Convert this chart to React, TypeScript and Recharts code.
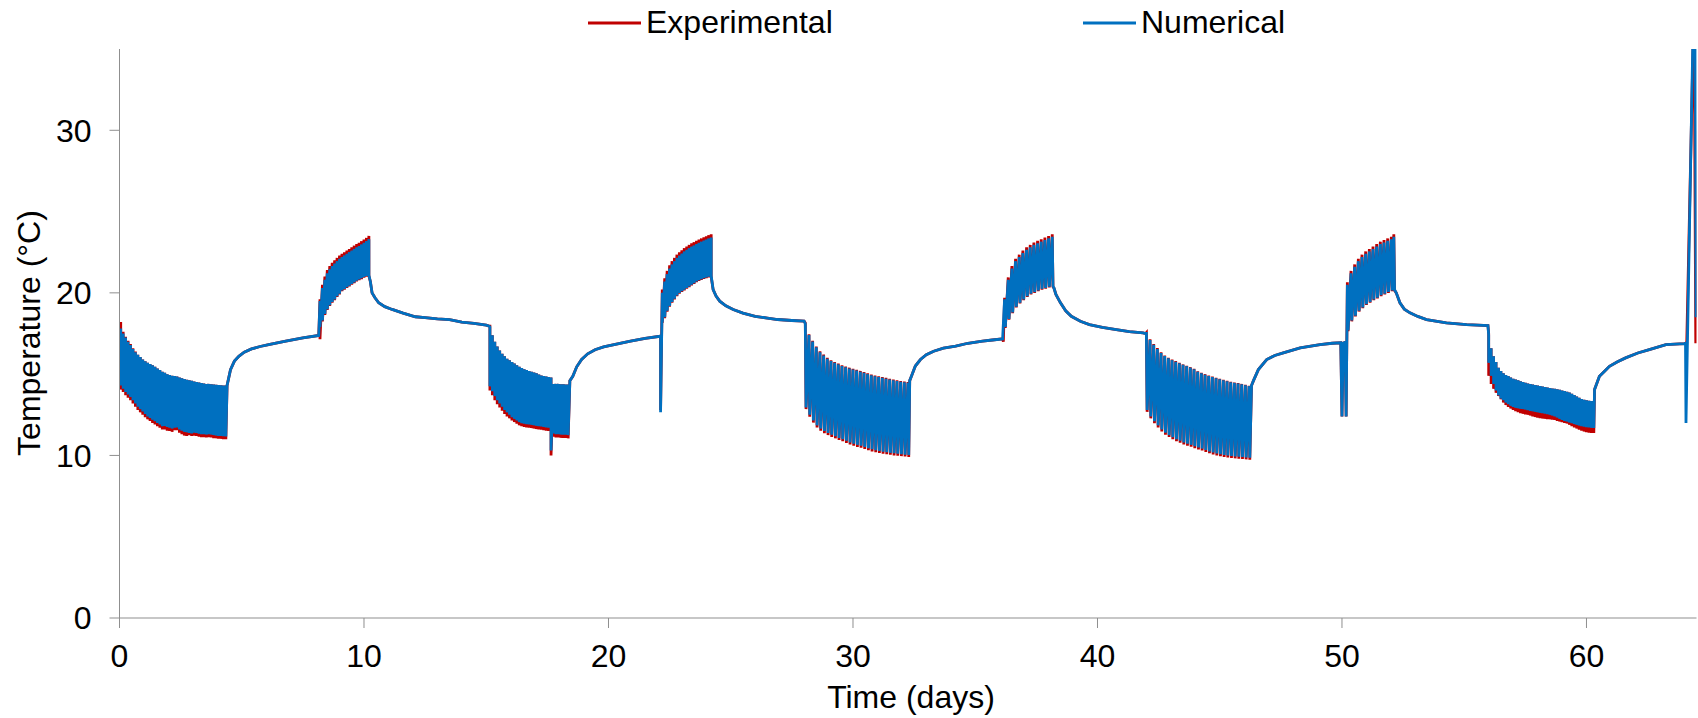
import React from 'react';
import { LineChart, Line, XAxis, YAxis, Legend, Label } from 'recharts';

type P = [number, number];
// [time, high reading, low reading] for densely oscillating stretches
type T = [number, number, number];

const FONT = '"Liberation Sans", Arial, sans-serif';
const AXIS = '#8f8f8f';

const xTicks = [0, 10, 20, 30, 40, 50, 60];
const yTicks = [0, 10, 20, 30];
const xTitle = 'Time (days)';
const yTitle = 'Temperature (°C)';
const expName = 'Experimental';
const numName = 'Numerical';
const expColor = '#C00000';
const numColor = '#0070C0';

// ---- cycle 1: cooling band (0 - 4.35 d)
const band1Num: T[] = [[0.05,17.8,14.3],[0.15,17.5,14.1],[0.25,17.25,13.9],[0.35,17.0,13.75],[0.45,16.8,13.6],[0.55,16.55,13.4],[0.65,16.35,13.2],[0.75,16.2,13.0],[0.85,16.05,12.85],[0.95,15.9,12.7],[1.05,15.8,12.55],[1.15,15.7,12.4],[1.25,15.62,12.3],[1.35,15.55,12.2],[1.45,15.45,12.1],[1.55,15.35,12.0],[1.65,15.25,11.9],[1.75,15.15,11.8],[1.85,15.08,11.82],[1.95,15.0,11.75],[2.05,14.95,11.7],[2.15,14.9,11.65],[2.25,14.88,11.7],[2.35,14.85,11.72],[2.45,14.8,11.6],[2.55,14.75,11.52],[2.65,14.7,11.45],[2.75,14.66,11.42],[2.85,14.63,11.38],[2.95,14.6,11.35],[3.05,14.55,11.4],[3.15,14.52,11.38],[3.25,14.48,11.33],[3.35,14.45,11.3],[3.45,14.43,11.3],[3.55,14.4,11.28],[3.65,14.4,11.3],[3.75,14.38,11.28],[3.85,14.36,11.25],[3.95,14.35,11.22],[4.05,14.33,11.2],[4.15,14.32,11.2],[4.25,14.3,11.18],[4.35,14.3,11.17]];
const band1Exp: T[] = [[0.05,18.2,14.05],[0.15,17.6,13.9],[0.25,17.3,13.7],[0.35,17.05,13.55],[0.45,16.85,13.4],[0.55,16.6,13.2],[0.65,16.4,13.0],[0.75,16.2,12.8],[0.85,16.05,12.65],[0.95,15.9,12.5],[1.05,15.8,12.35],[1.15,15.7,12.22],[1.25,15.62,12.12],[1.35,15.55,12.0],[1.45,15.45,11.9],[1.55,15.35,11.8],[1.65,15.25,11.7],[1.75,15.15,11.6],[1.85,15.08,11.6],[1.95,15.0,11.52],[2.05,14.95,11.5],[2.15,14.9,11.45],[2.25,14.88,11.55],[2.35,14.85,11.55],[2.45,14.8,11.4],[2.55,14.75,11.3],[2.65,14.7,11.22],[2.75,14.66,11.2],[2.85,14.63,11.24],[2.95,14.6,11.2],[3.05,14.55,11.22],[3.15,14.52,11.2],[3.25,14.48,11.15],[3.35,14.45,11.12],[3.45,14.43,11.12],[3.55,14.4,11.1],[3.65,14.4,11.12],[3.75,14.38,11.1],[3.85,14.36,11.06],[3.95,14.35,11.05],[4.05,14.33,11.03],[4.15,14.32,11.02],[4.25,14.3,11.0],[4.35,14.3,11.0]];
const rise1: P[] = [[4.4,14.3],[4.54,15.28],[4.7,15.8],[4.88,16.1],[5.1,16.35],[5.4,16.55],[5.75,16.7],[6.1,16.82],[6.8,17.03],[7.5,17.23],[8.15,17.38]];

// ---- cycle 2: heating band (8.2 - 10.2 d)
const band2Num: T[] = [[8.2,19.5,17.9],[8.3,20.3,18.3],[8.4,20.8,18.7],[8.5,21.2,19.0],[8.6,21.45,19.25],[8.7,21.65,19.45],[8.8,21.8,19.6],[8.9,21.95,19.8],[9.0,22.1,19.95],[9.1,22.2,20.15],[9.2,22.3,20.25],[9.3,22.4,20.35],[9.4,22.5,20.45],[9.5,22.6,20.55],[9.6,22.7,20.65],[9.7,22.8,20.75],[9.8,22.88,20.82],[9.9,22.98,20.9],[10.0,23.08,20.98],[10.1,23.18,21.05],[10.2,23.3,21.1]];
const band2Exp: T[] = [[8.2,19.6,17.15],[8.3,20.5,18.25],[8.4,21.0,18.65],[8.5,21.4,18.95],[8.6,21.65,19.2],[8.7,21.85,19.4],[8.8,22.0,19.55],[8.9,22.15,19.75],[9.0,22.3,19.9],[9.1,22.4,20.1],[9.2,22.5,20.2],[9.3,22.6,20.3],[9.4,22.7,20.4],[9.5,22.8,20.5],[9.6,22.9,20.6],[9.7,23.0,20.7],[9.8,23.08,20.78],[9.9,23.18,20.85],[10.0,23.28,20.93],[10.1,23.38,21.0],[10.2,23.5,21.05]];
const decay2: P[] = [[10.26,20.7],[10.33,20.0],[10.45,19.7],[10.6,19.39],[10.85,19.15],[11.15,18.98],[11.6,18.75],[12.1,18.53],[12.5,18.48],[13.0,18.4],[13.5,18.36],[14.0,18.2],[14.5,18.12],[15.0,18.01],[15.12,17.95]];

// ---- cycle 3: cooling band (15.15 - 18.35 d)
const band3Num: T[] = [[15.15,17.9,14.25],[15.25,17.4,13.95],[15.35,17.0,13.65],[15.45,16.7,13.4],[15.55,16.45,13.2],[15.65,16.25,13.0],[15.75,16.1,12.8],[15.85,15.95,12.65],[15.95,15.85,12.5],[16.05,15.75,12.35],[16.15,15.65,12.25],[16.25,15.55,12.15],[16.35,15.45,12.05],[16.45,15.38,11.98],[16.55,15.3,11.95],[16.65,15.25,11.92],[16.75,15.2,11.9],[16.85,15.15,11.88],[16.95,15.1,11.85],[17.05,15.05,11.82],[17.15,14.98,11.8],[17.25,14.92,11.78],[17.35,14.88,11.75],[17.45,14.85,11.72],[17.55,14.82,11.7],[17.65,14.8,10.3],[17.75,14.4,11.35],[17.85,14.4,11.3],[17.95,14.4,11.3],[18.05,14.38,11.28],[18.15,14.38,11.27],[18.25,14.36,11.27],[18.35,14.36,11.25]];
const band3Exp: T[] = [[15.15,17.95,14.0],[15.25,17.4,13.7],[15.35,17.0,13.4],[15.45,16.7,13.15],[15.55,16.45,12.95],[15.65,16.25,12.75],[15.75,16.1,12.55],[15.85,15.95,12.4],[15.95,15.85,12.28],[16.05,15.75,12.15],[16.15,15.65,12.05],[16.25,15.55,11.95],[16.35,15.45,11.85],[16.45,15.38,11.8],[16.55,15.3,11.75],[16.65,15.25,11.72],[16.75,15.2,11.7],[16.85,15.15,11.68],[16.95,15.1,11.65],[17.05,15.05,11.62],[17.15,14.98,11.6],[17.25,14.92,11.58],[17.35,14.88,11.55],[17.45,14.85,11.52],[17.55,14.82,11.5],[17.65,14.8,10.0],[17.75,14.4,11.15],[17.85,14.4,11.1],[17.95,14.4,11.1],[18.05,14.38,11.08],[18.15,14.38,11.07],[18.25,14.36,11.07],[18.35,14.36,11.05]];
const rise3: P[] = [[18.42,14.6],[18.54,14.87],[18.7,15.45],[18.9,15.9],[19.15,16.25],[19.45,16.5],[19.8,16.68],[20.18,16.8],[20.9,17.03],[21.5,17.2],[22.1,17.33]];

// ---- cycle 4: heating band (22.1 - 24.2 d)
const band4Num: T[] = [[22.13,17.3,12.65],[22.2,20.0,18.2],[22.3,20.7,18.5],[22.4,21.15,18.9],[22.5,21.5,19.2],[22.6,21.75,19.45],[22.7,21.95,19.65],[22.8,22.15,19.85],[22.9,22.3,20.0],[23.0,22.42,20.1],[23.1,22.55,20.2],[23.2,22.65,20.3],[23.3,22.75,20.4],[23.4,22.85,20.5],[23.5,22.92,20.6],[23.6,23.0,20.7],[23.7,23.08,20.78],[23.8,23.15,20.85],[23.9,23.22,20.9],[24.0,23.28,20.95],[24.1,23.35,21.0],[24.2,23.4,21.05]];
const band4Exp: T[] = [[22.13,17.3,12.8],[22.2,20.2,18.15],[22.3,20.9,18.45],[22.4,21.35,18.85],[22.5,21.7,19.15],[22.6,21.95,19.4],[22.7,22.15,19.6],[22.8,22.35,19.8],[22.9,22.5,19.95],[23.0,22.62,20.05],[23.1,22.75,20.15],[23.2,22.85,20.25],[23.3,22.95,20.35],[23.4,23.05,20.45],[23.5,23.12,20.55],[23.6,23.2,20.65],[23.7,23.28,20.73],[23.8,23.35,20.8],[23.9,23.42,20.85],[24.0,23.48,20.9],[24.1,23.55,20.95],[24.2,23.6,21.0]];
const decay4: P[] = [[24.28,20.2],[24.4,19.8],[24.55,19.49],[24.8,19.2],[25.1,18.98],[25.5,18.75],[26.0,18.56],[26.5,18.45],[26.92,18.36],[27.5,18.3],[28.0,18.26]];

// ---- cycle 5: cooling spikes (28 - 32.3 d)
const spikes5Num: P[] = [[28.05,18.1],[28.08,12.95],[28.2,17.4],[28.23,12.5],[28.35,17.0],[28.38,12.15],[28.5,16.65],[28.53,11.85],[28.65,16.35],[28.68,11.65],[28.8,16.15],[28.83,11.5],[28.95,15.95],[28.98,11.38],[29.1,15.8],[29.13,11.27],[29.25,15.7],[29.28,11.18],[29.4,15.6],[29.43,11.08],[29.55,15.5],[29.58,11.0],[29.7,15.42],[29.73,10.9],[29.85,15.35],[29.88,10.8],[30.0,15.28],[30.03,10.72],[30.15,15.22],[30.18,10.65],[30.3,15.15],[30.33,10.6],[30.45,15.08],[30.48,10.52],[30.6,15.0],[30.63,10.45],[30.75,14.93],[30.78,10.38],[30.9,14.87],[30.93,10.32],[31.05,14.82],[31.08,10.28],[31.2,14.77],[31.23,10.23],[31.35,14.72],[31.38,10.2],[31.5,14.67],[31.53,10.16],[31.65,14.62],[31.68,10.13],[31.8,14.57],[31.83,10.1],[31.95,14.53],[31.98,10.08],[32.1,14.5],[32.13,10.05],[32.25,14.47],[32.28,10.02]];
const spikes5Exp: P[] = [[28.05,18.15],[28.08,12.85],[28.2,17.45],[28.23,12.38],[28.35,17.05],[28.38,12.02],[28.5,16.7],[28.53,11.72],[28.65,16.4],[28.68,11.52],[28.8,16.2],[28.83,11.37],[28.95,16.0],[28.98,11.25],[29.1,15.85],[29.13,11.14],[29.25,15.75],[29.28,11.05],[29.4,15.65],[29.43,10.95],[29.55,15.55],[29.58,10.87],[29.7,15.47],[29.73,10.77],[29.85,15.4],[29.88,10.67],[30.0,15.33],[30.03,10.6],[30.15,15.27],[30.18,10.52],[30.3,15.2],[30.33,10.47],[30.45,15.13],[30.48,10.4],[30.6,15.05],[30.63,10.32],[30.75,14.98],[30.78,10.25],[30.9,14.92],[30.93,10.2],[31.05,14.87],[31.08,10.15],[31.2,14.82],[31.23,10.1],[31.35,14.77],[31.38,10.08],[31.5,14.72],[31.53,10.04],[31.65,14.67],[31.68,10.0],[31.8,14.62],[31.83,9.98],[31.95,14.58],[31.98,9.96],[32.1,14.55],[32.13,9.93],[32.25,14.52],[32.28,9.9]];
const rise5: P[] = [[32.32,14.6],[32.39,14.87],[32.55,15.5],[32.76,15.9],[33.0,16.2],[33.3,16.41],[33.7,16.6],[34.2,16.72],[34.7,16.9],[35.3,17.03],[35.7,17.1],[36.12,17.17]];

// ---- cycle 6: heating spikes (36.2 - 38.2 d)
const spikes6Num: P[] = [[36.2,19.6],[36.23,17.9],[36.35,20.8],[36.38,18.4],[36.5,21.5],[36.53,18.8],[36.65,21.95],[36.68,19.15],[36.8,22.2],[36.83,19.4],[36.95,22.45],[36.98,19.6],[37.1,22.65],[37.13,19.8],[37.25,22.8],[37.28,19.95],[37.4,22.95],[37.43,20.05],[37.55,23.05],[37.58,20.15],[37.7,23.15],[37.73,20.25],[37.85,23.25],[37.88,20.3],[38.0,23.35],[38.03,20.38],[38.15,23.45],[38.18,20.42]];
const spikes6Exp: P[] = [[36.15,17.0],[36.2,19.7],[36.23,17.85],[36.35,20.95],[36.38,18.35],[36.5,21.65],[36.53,18.75],[36.65,22.1],[36.68,19.1],[36.8,22.35],[36.83,19.35],[36.95,22.6],[36.98,19.55],[37.1,22.8],[37.13,19.75],[37.25,22.95],[37.28,19.9],[37.4,23.1],[37.43,20.0],[37.55,23.2],[37.58,20.1],[37.7,23.3],[37.73,20.2],[37.85,23.4],[37.88,20.25],[38.0,23.5],[38.03,20.33],[38.15,23.6],[38.18,20.37]];
const decay6: P[] = [[38.22,20.3],[38.3,19.9],[38.48,19.4],[38.7,18.9],[38.93,18.56],[39.3,18.25],[39.67,18.05],[40.2,17.88],[40.77,17.74],[41.3,17.62],[41.86,17.54],[41.97,17.5]];

// ---- cycle 7: cooling spikes (42 - 46.3 d)
const spikes7Num: P[] = [[42.0,17.5],[42.03,12.8],[42.15,17.1],[42.18,12.4],[42.3,16.8],[42.33,12.1],[42.45,16.55],[42.48,11.85],[42.6,16.3],[42.63,11.6],[42.75,16.12],[42.78,11.4],[42.9,15.98],[42.93,11.25],[43.05,15.86],[43.08,11.12],[43.2,15.76],[43.23,11.0],[43.35,15.66],[43.38,10.9],[43.5,15.57],[43.53,10.8],[43.65,15.49],[43.68,10.72],[43.8,15.4],[43.83,10.65],[43.95,15.3],[43.98,10.57],[44.1,15.15],[44.13,10.49],[44.25,15.05],[44.28,10.42],[44.4,14.96],[44.43,10.33],[44.55,14.89],[44.58,10.25],[44.7,14.82],[44.73,10.18],[44.85,14.75],[44.88,10.12],[45.0,14.68],[45.03,10.07],[45.15,14.62],[45.18,10.03],[45.3,14.56],[45.33,10.0],[45.45,14.5],[45.48,9.97],[45.6,14.46],[45.63,9.94],[45.75,14.42],[45.78,9.92],[45.9,14.37],[45.93,9.9],[46.05,14.31],[46.08,9.88],[46.2,14.26],[46.23,9.86]];
const spikes7Exp: P[] = [[42.0,17.55],[42.03,12.68],[42.15,17.15],[42.18,12.28],[42.3,16.85],[42.33,11.98],[42.45,16.6],[42.48,11.72],[42.6,16.35],[42.63,11.48],[42.75,16.15],[42.78,11.28],[42.9,16.0],[42.93,11.13],[43.05,15.9],[43.08,11.0],[43.2,15.8],[43.23,10.88],[43.35,15.7],[43.38,10.78],[43.5,15.6],[43.53,10.68],[43.65,15.52],[43.68,10.6],[43.8,15.43],[43.83,10.53],[43.95,15.33],[43.98,10.45],[44.1,15.18],[44.13,10.37],[44.25,15.08],[44.28,10.3],[44.4,15.0],[44.43,10.21],[44.55,14.92],[44.58,10.13],[44.7,14.85],[44.73,10.06],[44.85,14.78],[44.88,10.0],[45.0,14.71],[45.03,9.95],[45.15,14.65],[45.18,9.91],[45.3,14.59],[45.33,9.88],[45.45,14.53],[45.48,9.85],[45.6,14.49],[45.63,9.82],[45.75,14.45],[45.78,9.8],[45.9,14.4],[45.93,9.78],[46.05,14.34],[46.08,9.76],[46.2,14.29],[46.23,9.74]];
const rise7: P[] = [[46.3,14.3],[46.38,14.6],[46.58,15.28],[46.92,15.9],[47.25,16.15],[47.6,16.31],[48.29,16.62],[49.1,16.82],[49.6,16.9],[49.95,16.93],[50.0,12.4],[50.05,16.9],[50.13,16.95],[50.17,12.4]];

// ---- cycle 8: heating spikes (50.2 - 52.15 d)
const spikes8Num: P[] = [[50.22,20.5],[50.25,17.7],[50.37,21.2],[50.4,18.3],[50.52,21.6],[50.55,18.6],[50.67,21.95],[50.7,18.9],[50.82,22.2],[50.85,19.1],[50.97,22.4],[51.0,19.3],[51.12,22.55],[51.15,19.45],[51.27,22.7],[51.3,19.6],[51.42,22.85],[51.45,19.7],[51.57,23.0],[51.6,19.85],[51.72,23.1],[51.75,19.95],[51.87,23.2],[51.9,20.05],[52.02,23.3],[52.05,20.15],[52.12,23.45],[52.15,20.2]];
const spikes8Exp: P[] = [[50.22,20.65],[50.25,17.65],[50.37,21.35],[50.4,18.25],[50.52,21.75],[50.55,18.55],[50.67,22.1],[50.7,18.85],[50.82,22.35],[50.85,19.05],[50.97,22.55],[51.0,19.25],[51.12,22.7],[51.15,19.4],[51.27,22.85],[51.3,19.55],[51.42,23.0],[51.45,19.65],[51.57,23.15],[51.6,19.8],[51.72,23.25],[51.75,19.9],[51.87,23.35],[51.9,20.0],[52.02,23.45],[52.05,20.1],[52.12,23.6],[52.15,20.15]];
const decay8: P[] = [[52.22,20.0],[52.37,19.39],[52.55,19.0],[52.78,18.77],[53.1,18.55],[53.46,18.36],[54.27,18.16],[55.1,18.05],[55.97,17.99]];

// ---- cycle 9: cooling band (56 - 60.3 d)
const band9Num: T[] = [[56.0,17.4,15.7],[56.1,16.6,14.9],[56.2,16.1,14.4],[56.3,15.75,14.0],[56.4,15.4,13.7],[56.5,15.2,13.5],[56.6,15.05,13.4],[56.7,14.95,13.25],[56.8,14.88,13.15],[56.9,14.8,13.05],[57.0,14.72,12.98],[57.1,14.67,12.93],[57.2,14.62,12.9],[57.3,14.57,12.87],[57.4,14.52,12.85],[57.5,14.47,12.82],[57.6,14.43,12.78],[57.7,14.4,12.74],[57.8,14.36,12.71],[57.9,14.33,12.68],[58.0,14.3,12.65],[58.1,14.27,12.62],[58.2,14.24,12.6],[58.3,14.21,12.57],[58.4,14.18,12.54],[58.5,14.15,12.5],[58.6,14.12,12.45],[58.7,14.1,12.4],[58.8,14.07,12.33],[58.9,14.04,12.25],[59.0,14.0,12.18],[59.1,13.96,12.12],[59.2,13.92,12.08],[59.3,13.87,12.03],[59.4,13.8,11.98],[59.5,13.72,11.93],[59.6,13.63,11.88],[59.7,13.55,11.84],[59.8,13.47,11.8],[59.9,13.42,11.77],[60.0,13.4,11.74],[60.1,13.37,11.72],[60.2,13.35,11.7],[60.3,13.33,11.69]];
const band9Exp: T[] = [[56.0,17.5,14.9],[56.1,16.6,14.4],[56.2,16.1,14.1],[56.3,15.75,13.85],[56.4,15.4,13.65],[56.5,15.2,13.45],[56.6,15.05,13.25],[56.7,14.95,13.1],[56.8,14.88,12.98],[56.9,14.8,12.88],[57.0,14.72,12.8],[57.1,14.67,12.72],[57.2,14.62,12.66],[57.3,14.57,12.6],[57.4,14.52,12.56],[57.5,14.47,12.52],[57.6,14.43,12.5],[57.7,14.4,12.45],[57.8,14.36,12.4],[57.9,14.33,12.36],[58.0,14.3,12.32],[58.1,14.27,12.29],[58.2,14.24,12.27],[58.3,14.21,12.25],[58.4,14.18,12.23],[58.5,14.15,12.22],[58.6,14.12,12.2],[58.7,14.1,12.18],[58.8,14.07,12.12],[58.9,14.04,12.08],[59.0,14.0,12.04],[59.1,13.96,12.0],[59.2,13.92,11.96],[59.3,13.87,11.88],[59.4,13.8,11.8],[59.5,13.72,11.72],[59.6,13.63,11.65],[59.7,13.55,11.58],[59.8,13.47,11.52],[59.9,13.42,11.47],[60.0,13.4,11.43],[60.1,13.37,11.4],[60.2,13.35,11.38],[60.3,13.33,11.38]];
const rise9: P[] = [[60.33,14.05],[60.53,14.87],[60.75,15.2],[60.94,15.48],[61.25,15.75],[61.6,16.0],[62.1,16.3],[62.57,16.51],[63.25,16.82],[64.0,16.88],[64.05,16.9]];

// ---- final excursion (64 - 64.5 d)
const end10Num: P[] = [[64.07,12.0],[64.38,38],[64.45,38],[64.48,18.5]];
const end10Exp: P[] = [[64.1,16.9],[64.4,38],[64.47,16.9]];

const expand = (rows: T[]): P[] => rows.flatMap(([t, hi, lo]) => [[t, hi], [t, lo]] as P[]);

const numerical: P[] = [
  ...expand(band1Num), ...rise1, ...expand(band2Num), ...decay2, ...expand(band3Num), ...rise3,
  ...expand(band4Num), ...decay4, ...spikes5Num, ...rise5, ...spikes6Num, ...decay6,
  ...spikes7Num, ...rise7, ...spikes8Num, ...decay8, ...expand(band9Num), ...rise9, ...end10Num,
];
const experimental: P[] = [
  ...expand(band1Exp), ...rise1, ...expand(band2Exp), ...decay2, ...expand(band3Exp), ...rise3,
  ...expand(band4Exp), ...decay4, ...spikes5Exp, ...rise5, ...spikes6Exp, ...decay6,
  ...spikes7Exp, ...rise7, ...spikes8Exp, ...decay8, ...expand(band9Exp), ...rise9, ...end10Exp,
];

const numData = numerical.map(([t, v]) => ({ t, v }));
const expData = experimental.map(([t, v]) => ({ t, v }));

const renderLegend = (props: any) => {
  const payload = props.payload || [];
  return (
    <svg width={1698} height={49} style={{ display: 'block' }}>
      {payload.map((p: any, i: number) => (
        <g key={String(p.value)}>
          <line x1={588 + i * 495} x2={641 + i * 495} y1={23} y2={23} stroke={p.color} strokeWidth={3} />
          <text x={646 + i * 495} y={33} fontSize={32} fill="#000" fontFamily={FONT}>
            {p.value}
          </text>
        </g>
      ))}
    </svg>
  );
};

export default function App() {
  return (
    <div style={{ width: 1698, height: 718, fontFamily: FONT, background: '#fff', position: 'relative' }}>
      <style>{'body{margin:0;overflow:hidden;background:#fff;}'}</style>
      <LineChart width={1698} height={718} margin={{ top: 49, right: 1.5, bottom: 0, left: 0.5 }}>
        <XAxis
          dataKey="t"
          type="number"
          domain={[0, 64.5]}
          ticks={xTicks}
          interval={0}
          allowDataOverflow
          height={100}
          stroke={AXIS}
          tickSize={10}
          tickMargin={16}
          tickLine={{ stroke: AXIS }}
          tick={{ fontSize: 32, fill: '#000', fontFamily: FONT }}
        >
          <Label
            content={() => (
              <text x={911} y={708} textAnchor="middle" fontSize={32} fill="#000" fontFamily={FONT}>
                {xTitle}
              </text>
            )}
          />
        </XAxis>
        <YAxis
          type="number"
          domain={[0, 35]}
          ticks={yTicks}
          interval={0}
          allowDataOverflow
          width={119}
          stroke={AXIS}
          tickSize={10}
          tickMargin={18}
          tickLine={{ stroke: AXIS }}
          tick={{ fontSize: 32, fill: '#000', fontFamily: FONT }}
        >
          <Label
            content={() => (
              <text
                x={40}
                y={333}
                transform="rotate(-90 40 333)"
                textAnchor="middle"
                fontSize={32}
                fill="#000"
                fontFamily={FONT}
              >
                {yTitle}
              </text>
            )}
          />
        </YAxis>
        <Legend
          verticalAlign="middle"
          align="center"
          layout="horizontal"
          wrapperStyle={{ top: 0, left: 0, width: 1698, height: 49 }}
          content={renderLegend}
        />
        <Line
          data={expData}
          dataKey="v"
          name={expName}
          type="linear"
          stroke={expColor}
          strokeWidth={2.8}
          dot={false}
          activeDot={false}
          isAnimationActive={false}
        />
        <Line
          data={numData}
          dataKey="v"
          name={numName}
          type="linear"
          stroke={numColor}
          strokeWidth={2.8}
          dot={false}
          activeDot={false}
          isAnimationActive={false}
        />
      </LineChart>
    </div>
  );
}
